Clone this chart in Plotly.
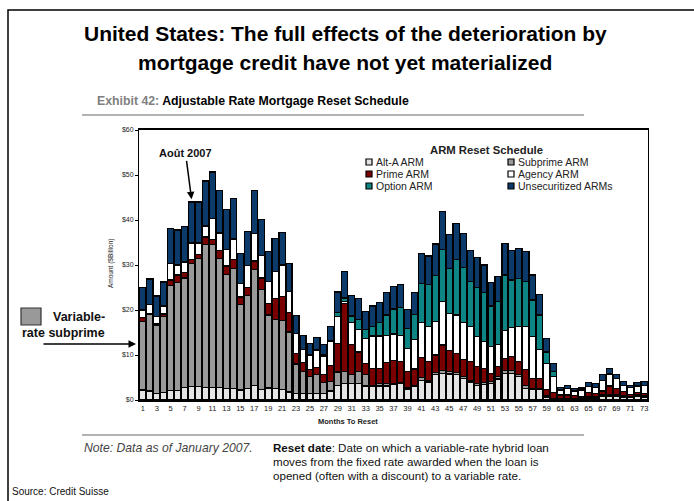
import plotly.graph_objects as go

months = list(range(1, 74))

alt_a = [2.2, 2.0, 1.4, 1.6, 2.1, 2.1, 2.8, 3.0, 3.0, 2.8, 2.8, 2.8, 2.6, 2.6, 2.2, 2.5, 3.2, 2.3, 2.7, 2.5,
         2.3, 1.8, 1.5, 1.5, 1.5, 1.5, 1.5, 2.0, 3.3, 3.7, 3.7, 3.7, 3.1, 3.0, 3.1, 3.1, 3.5, 3.7, 2.3, 3.1,
         4.4, 4.0, 5.6, 5.9, 5.8, 5.6, 4.8, 4.0, 3.3, 3.5, 3.7, 4.7, 5.9, 5.9, 5.2, 2.6, 2.3, 2.3, 0.6, 0.3,
         0.3, 0.3, 0.3, 0.3, 0.4, 0.4, 0.8, 0.8, 0.9, 0.6, 0.5, 0.8, 0.7]
subprime = [15.3, 17.0, 15.2, 16.9, 23.3, 24.0, 24.3, 27.3, 28.5, 31.7, 31.7, 28.7, 25.3, 26.6, 19.1, 20.8, 25.8, 22.3, 16.2, 15.4,
            15.3, 13.3, 6.5, 4.9, 3.7, 4.1, 2.4, 2.1, 2.9, 2.6, 1.9, 2.6, 2.5, 0.3, 0.6, 0.6, 0.2, 0.2, 0.4, 0.2,
            0.6, 0.4, 0.5, 0.6, 0.5, 0.5, 0.5, 0.4, 0.4, 0.4, 0.4, 0.5, 0.6, 0.6, 0.4, 0.7, 0.3, 0.3, 0.3, 0.1,
            0.1, 0.1, 0.1, 0.1, 0.3, 0.3, 0.3, 0.3, 0.4, 0.3, 0.2, 0.3, 0.3]
prime = [0.9, 0.3, 0.3, 0.6, 1.3, 1.7, 1.3, 0.9, 0.9, 1.7, 1.1, 1.8, 1.9, 2.1, 1.6, 1.7, 1.9, 2.5, 2.6, 4.6,
         5.4, 4.4, 2.3, 2.0, 1.6, 1.7, 1.7, 3.5, 6.4, 15.1, 6.8, 4.4, 2.5, 3.7, 3.3, 4.6, 5.1, 4.6, 3.6, 3.6,
         4.5, 4.1, 3.9, 5.7, 4.7, 4.3, 3.7, 4.1, 3.7, 3.1, 1.8, 2.2, 2.8, 3.2, 2.9, 3.5, 2.2, 2.2, 1.5, 1.2,
         0.7, 0.7, 0.6, 0.3, 0.9, 0.8, 0.9, 2.0, 1.3, 1.0, 0.6, 0.5, 0.5]
agency = [1.6, 2.0, 1.6, 1.8, 3.7, 2.2, 2.3, 3.7, 2.5, 2.5, 4.7, 3.8, 3.6, 4.5, 3.0, 4.9, 6.1, 5.0, 4.8, 6.0,
          7.0, 4.6, 4.5, 2.9, 3.2, 3.8, 4.0, 5.4, 5.9, 0.5, 4.8, 5.0, 5.6, 7.2, 7.2, 6.1, 5.9, 5.8, 5.2, 6.6,
          7.8, 7.8, 7.4, 9.7, 8.3, 8.5, 8.2, 7.9, 6.7, 6.0, 6.0, 5.0, 6.1, 6.4, 7.9, 9.6, 9.3, 6.5, 5.7, 3.6,
          1.1, 1.5, 1.0, 1.5, 1.4, 1.3, 2.4, 2.7, 2.2, 1.3, 1.5, 1.5, 1.7]
option = [0, 0, 0, 0, 0, 0, 0, 0, 0, 0, 0, 0, 0, 0, 0, 0, 0, 0, 0, 0,
          0, 0, 0, 0, 0, 0, 0.4, 0.3, 0.9, 0.8, 1.5, 2.2, 2.0, 2.2, 3.0, 4.5, 5.5, 6.3, 4.4, 5.5,
          8.6, 9.3, 10.2, 11.6, 10.0, 12.4, 12.2, 10.0, 10.9, 10.9, 9.0, 9.5, 12.4, 10.6, 10.6, 9.9, 8.1, 7.6, 2.6, 1.1,
          0, 0, 0, 0, 0, 0, 0, 0, 0, 0, 0, 0, 0]
unsecuritized = [5.0, 5.6, 4.6, 5.3, 7.7, 7.8, 7.9, 9.1, 9.1, 10.0, 10.4, 9.5, 8.9, 9.0, 6.7, 7.5, 9.5, 8.0, 6.7, 7.4,
                 7.3, 6.3, 4.0, 3.1, 2.6, 2.8, 2.4, 3.1, 4.6, 5.8, 4.6, 4.7, 3.9, 4.5, 4.4, 5.0, 5.0, 5.0, 4.2, 4.9,
                 6.7, 6.4, 7.1, 8.4, 7.5, 8.0, 7.6, 6.8, 6.7, 6.1, 5.2, 5.5, 7.0, 6.5, 6.7, 6.7, 5.6, 4.6, 3.0, 1.8,
                 0.6, 0.7, 0.5, 0.5, 0.9, 0.8, 1.3, 1.2, 0.9, 0.9, 0.5, 0.8, 0.9]

series_names = ["Alt-A ARM", "Subprime ARM", "Prime ARM", "Agency ARM", "Option ARM", "Unsecuritized ARMs"]
series_values = [alt_a, subprime, prime, agency, option, unsecuritized]
series_colors = ["#e4e4e4", "#999999", "#7a0000", "#ffffff", "#0e8585", "#0b3a6b"]

y_ticks = [0, 10, 20, 30, 40, 50, 60]
y_labels = ["$0", "$10", "$20", "$30", "$40", "$50", "$60"]
x_ticks = list(range(1, 74, 2))

# ---- layout helpers (pixel -> paper) ----
W, H = 694, 501
L, R, T, B = 139, 648, 130, 400


def px(x):
    return (x - L) / (R - L)


def py(y):
    return (B - y) / (B - T)


FONT = "Liberation Sans, Arial, sans-serif"
NARROW = "Liberation Sans Narrow, Arial Narrow, Liberation Sans, Arial, sans-serif"

fig = go.Figure()
for name, vals, col in zip(series_names, series_values, series_colors):
    fig.add_trace(go.Bar(x=months, y=vals, name=name, marker_color=col,
                         marker_line_color="#000000", marker_line_width=1.3,
                         showlegend=False))

fig.update_layout(
    width=W, height=H,
    margin=dict(l=L, r=W - R, t=T, b=H - B, pad=0),
    barmode="stack", bargap=0.12,
    paper_bgcolor="white", plot_bgcolor="white",
    font=dict(family=FONT, color="#000"),
    xaxis=dict(range=[0.45, 73.55], tickmode="array", tickvals=x_ticks,
               ticktext=[str(v) for v in x_ticks], tickfont=dict(size=7.5, color="#222"),
               showline=True, linecolor="#000", linewidth=1.5, mirror=True,
               ticks="", showgrid=False, zeroline=False),
    yaxis=dict(range=[0, 60], tickmode="array", tickvals=y_ticks, ticktext=y_labels,
               tickfont=dict(size=7, color="#222"), ticks="outside", ticklen=3,
               tickcolor="#000", showline=True, linecolor="#000", linewidth=1,
               mirror=True, showgrid=False, zeroline=False),
)

ann = []
shapes = []

# outer frame
shapes.append(dict(type="rect", xref="paper", yref="paper", x0=px(8), x1=px(700), y0=py(520), y1=py(10),
                   line=dict(color="#000", width=1.5), fillcolor="rgba(0,0,0,0)", layer="below"))

# title
ann.append(dict(text="<b>United States: The full effects of the deterioration by</b>", x=px(345), y=py(33),
                xref="paper", yref="paper", showarrow=False, font=dict(family=NARROW, size=21, color="#000"),
                xanchor="center", yanchor="middle"))
ann.append(dict(text="<b>mortgage credit have not yet materialized</b>", x=px(345), y=py(63),
                xref="paper", yref="paper", showarrow=False, font=dict(family=NARROW, size=21, color="#000"),
                xanchor="center", yanchor="middle"))
# exhibit subtitle
ann.append(dict(text="<b><span style='color:#808080'>Exhibit 42:</span> Adjustable Rate Mortgage Reset Schedule</b>",
                x=px(95), y=py(101), xref="paper", yref="paper", showarrow=False,
                font=dict(family=FONT, size=12.3, color="#000"), xanchor="left", yanchor="middle"))
shapes.append(dict(type="line", xref="paper", yref="paper", x0=px(82), x1=px(584), y0=py(115), y1=py(115),
                   line=dict(color="#999", width=1.5)))
shapes.append(dict(type="line", xref="paper", yref="paper", x0=px(82), x1=px(584), y0=py(435), y1=py(435),
                   line=dict(color="#999", width=1.5)))

# axis titles
ann.append(dict(text="<b>Months To Reset</b>", x=px(348), y=py(421), xref="paper", yref="paper",
                showarrow=False, font=dict(size=7.5, color="#222"), xanchor="center", yanchor="middle"))
ann.append(dict(text="Amount ($Billion)", x=px(111), y=py(263), xref="paper", yref="paper", textangle=-90,
                showarrow=False, font=dict(size=6.5, color="#222"), xanchor="center", yanchor="middle"))

# legend (manual)
ann.append(dict(text="<b>ARM Reset Schedule</b>", x=px(486), y=py(150), xref="paper", yref="paper",
                showarrow=False, font=dict(size=11.3, color="#222"), xanchor="center", yanchor="middle"))
leg_pos = [(366, 162), (508, 162), (366, 174), (508, 174), (366, 186), (508, 186)]
for (lx, ly), name, col in zip(leg_pos, series_names, series_colors):
    shapes.append(dict(type="rect", xref="paper", yref="paper", x0=px(lx), x1=px(lx + 6),
                       y0=py(ly + 3), y1=py(ly - 3), fillcolor=col, line=dict(color="#000", width=1.2)))
    ann.append(dict(text=name, x=px(lx + 8), y=py(ly), xref="paper", yref="paper", showarrow=False,
                    font=dict(size=10.5, color="#222"), xanchor="left", yanchor="middle"))

# Août 2007 arrow
ann.append(dict(text="<b>Août 2007</b>", x=8, y=44.6, xref="x", yref="y", showarrow=True,
                arrowhead=2, arrowsize=1, arrowwidth=1.5, arrowcolor="#000", ax=-6, ay=-46,
                font=dict(size=11, color="#111")))

# left callout
shapes.append(dict(type="rect", xref="paper", yref="paper", x0=px(21), x1=px(41), y0=py(325), y1=py(308),
                   fillcolor="#999999", line=dict(color="#333", width=1.2)))
ann.append(dict(text="<b>Variable-</b>", x=px(107), y=py(317), xref="paper", yref="paper", showarrow=False,
                font=dict(size=12.5, color="#111"), xanchor="right", yanchor="middle"))
ann.append(dict(text="<b>rate subprime</b>", x=px(107), y=py(333), xref="paper", yref="paper", showarrow=False,
                font=dict(size=12.5, color="#111"), xanchor="right", yanchor="middle"))
ann.append(dict(text="", x=px(136), y=py(344), xref="paper", yref="paper", showarrow=True,
                arrowhead=2, arrowsize=1, arrowwidth=1.5, arrowcolor="#000", ax=-94, ay=0))

# notes
ann.append(dict(text="<i>Note: Data as of January 2007.</i>", x=px(82), y=py(448), xref="paper", yref="paper",
                showarrow=False, font=dict(family=NARROW, size=12.2, color="#444"), xanchor="left", yanchor="middle"))
note_lines = ["<b>Reset date</b>: Date on which a variable-rate hybrid loan",
              "moves from the fixed rate awarded when the loan is",
              "opened (often with a discount) to a variable rate."]
for i, line in enumerate(note_lines):
    ann.append(dict(text=line, x=px(271), y=py(447 + 14 * i), xref="paper", yref="paper", showarrow=False,
                    font=dict(family=NARROW, size=11.6, color="#111"), xanchor="left", yanchor="middle"))
ann.append(dict(text="Source: Credit Suisse", x=px(10), y=py(491), xref="paper", yref="paper", showarrow=False,
                font=dict(family=FONT, size=10, color="#111"), xanchor="left", yanchor="middle"))

fig.update_layout(annotations=ann, shapes=shapes)
fig.write_html("out.html", config={"displayModeBar": False},
               post_script="document.body.style.margin='0px';document.body.style.overflow='hidden';")
